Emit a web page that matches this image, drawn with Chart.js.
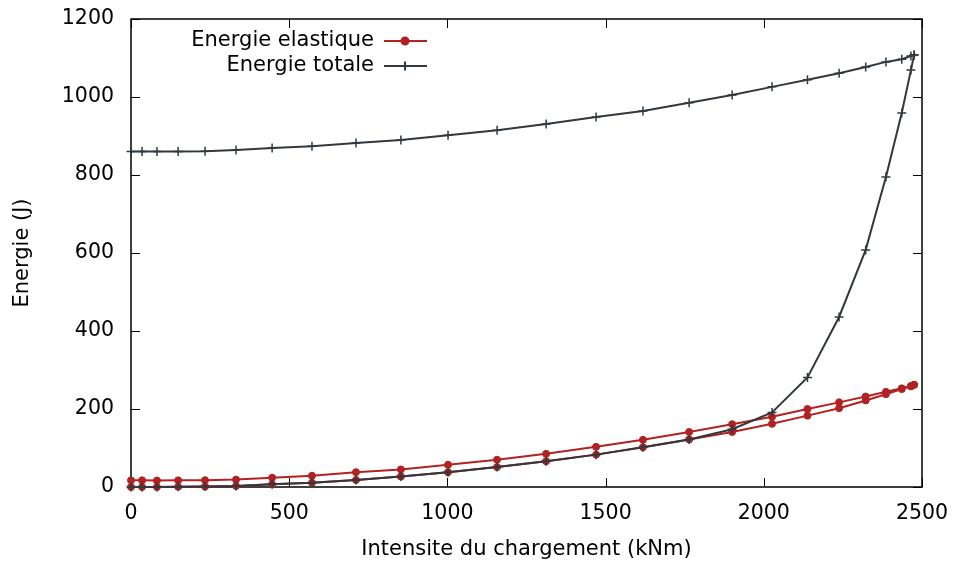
<!DOCTYPE html>
<html>
<head>
<meta charset="utf-8">
<script src="https://cdn.jsdelivr.net/npm/chart.js@4.4.1/dist/chart.umd.min.js"></script>
<style>
  html, body { margin: 0; padding: 0; background: #fff; }
</style>
</head>
<body>
<canvas id="energyChart" width="955" height="563"></canvas>
<script>
// intensite du chargement (kNm), same stations on loading and unloading
var intensite = [0, 35, 82, 149, 234, 332, 446, 572, 711, 853, 1002, 1157, 1312,
                 1470, 1618, 1764, 1900, 2026, 2138, 2238, 2322, 2386, 2436, 2465, 2475];

// energie elastique (J)
var elasCharge   = [0, 0, 0, 0.5, 1, 2.5, 7, 11, 18, 27, 38, 51, 66,
                    83, 102, 122, 141, 162, 183, 202, 222, 238, 251, 258, 262];
var elasDecharge = [17, 17, 16.5, 17, 17.5, 19, 24, 29, 38, 45, 57, 70, 85,
                    103, 121, 141, 161, 180, 200, 217, 232, 244, 253, 259, 262];

// energie totale (J)
var totCharge    = [0, 0, 0, 0.5, 1, 2.5, 7, 11, 18, 27, 38, 51, 66,
                    83, 102, 122, 148, 191, 281, 436, 608, 795, 959, 1069, 1108];
var totDecharge  = [860, 860, 860, 860, 861, 864, 869, 874, 882, 890, 902, 915, 931,
                    949, 964, 985, 1005, 1026, 1044, 1061, 1077, 1090, 1097, 1105, 1108];

var xTicks = [0, 500, 1000, 1500, 2000, 2500];
var yTicks = [0, 200, 400, 600, 800, 1000, 1200];

// loading goes up in x, unloading comes back down
function cycle(up, down) {
    var pts = [];
    for (let i = 0; i < intensite.length; i++) {
        pts.push({ x: intensite[i], y: up[i] });
    }
    for (let i = intensite.length - 1; i >= 0; i--) {
        pts.push({ x: intensite[i], y: down[i] });
    }
    return pts;
}

var FONT = '"DejaVu Sans", "Liberation Sans", sans-serif';
Chart.defaults.font.family = FONT;
Chart.defaults.font.size = 21;
Chart.defaults.color = '#000';

// gnuplot style box with inward ticks on all four sides
var framePlugin = {
    id: 'frame',
    beforeDatasetsDraw(chart) {
        const ctx = chart.ctx;
        const a = chart.chartArea;
        const xs = chart.scales.x, ys = chart.scales.y;
        const len = 9;
        ctx.save();
        ctx.strokeStyle = '#000';
        ctx.lineWidth = 1;
        ctx.beginPath();
        xs.ticks.forEach((t) => {
            const px = Math.round(xs.getPixelForValue(t.value)) + 0.5;
            ctx.moveTo(px, a.bottom); ctx.lineTo(px, a.bottom - len);
            ctx.moveTo(px, a.top); ctx.lineTo(px, a.top + len);
        });
        ys.ticks.forEach((t) => {
            const py = Math.round(ys.getPixelForValue(t.value)) + 0.5;
            ctx.moveTo(a.left, py); ctx.lineTo(a.left + len, py);
            ctx.moveTo(a.right, py); ctx.lineTo(a.right - len, py);
        });
        ctx.stroke();
        ctx.lineWidth = 1.5;
        ctx.strokeRect(a.left, a.top, a.right - a.left, a.bottom - a.top);
        ctx.restore();
    }
};

// key in the top left corner: text right aligned, sample line after it
var keyPlugin = {
    id: 'key',
    afterDraw(chart) {
        const ctx = chart.ctx;
        ctx.save();
        ctx.font = '21px ' + FONT;
        ctx.textAlign = 'right';
        ctx.textBaseline = 'middle';
        chart.data.datasets.forEach((ds, i) => {
            const y = 41 + i * 25;
            ctx.fillStyle = '#000';
            ctx.fillText(ds.label, 374, y);
            ctx.strokeStyle = ds.borderColor;
            ctx.lineWidth = ds.borderWidth;
            ctx.beginPath();
            ctx.moveTo(384, y);
            ctx.lineTo(427, y);
            ctx.stroke();
            ctx.fillStyle = ds.pointBackgroundColor;
            ctx.strokeStyle = ds.pointBorderColor;
            Chart.helpers.drawPoint(ctx, {
                pointStyle: ds.pointStyle,
                radius: ds.pointRadius,
                borderWidth: ds.pointBorderWidth,
                rotation: 0
            }, 405, y);
        });
        ctx.restore();
    }
};

// keep the plot box where the layout padding puts it
function noOverhang(s) {
    s.paddingTop = 0;
    s.paddingBottom = 0;
    s.paddingLeft = 0;
    s.paddingRight = 0;
}

var ctx = document.getElementById('energyChart');
var chart = new Chart(ctx, {
    type: 'scatter',
    data: {
        datasets: [
            {
                label: 'Energie elastique',
                data: cycle(elasCharge, elasDecharge),
                showLine: true,
                borderColor: '#b22222',
                borderWidth: 2,
                pointStyle: 'circle',
                pointRadius: 3.5,
                pointBackgroundColor: '#b22222',
                pointBorderColor: '#b22222',
                pointBorderWidth: 1,
                clip: false,
                order: 1
            },
            {
                label: 'Energie totale',
                data: cycle(totCharge, totDecharge),
                showLine: true,
                borderColor: '#32383d',
                borderWidth: 2,
                pointStyle: 'cross',
                pointRadius: 4.5,
                pointBackgroundColor: '#32383d',
                pointBorderColor: '#32383d',
                pointBorderWidth: 1.5,
                clip: false,
                order: 0
            }
        ]
    },
    options: {
        responsive: false,
        animation: false,
        devicePixelRatio: 1,
        layout: { padding: { top: 19, right: 33, left: 0, bottom: 0 } },
        plugins: {
            legend: { display: false },
            tooltip: { enabled: false }
        },
        scales: {
            x: {
                type: 'linear',
                min: 0,
                max: 2500,
                afterBuildTicks: (s) => { s.ticks = xTicks.map(v => ({ value: v })); },
                afterFit: (s) => { s.height = 76; noOverhang(s); },
                grid: { display: false, drawTicks: false },
                border: { display: false },
                ticks: {
                    padding: 14,
                    maxRotation: 0,
                    font: { size: 20.5 },
                    callback: (v) => String(v)
                },
                title: {
                    display: true,
                    text: 'Intensite du chargement (kNm)',
                    padding: { top: 0, bottom: 1 }
                }
            },
            y: {
                type: 'linear',
                min: 0,
                max: 1200,
                afterBuildTicks: (s) => { s.ticks = yTicks.map(v => ({ value: v })); },
                afterFit: (s) => { s.width = 131; noOverhang(s); },
                grid: { display: false, drawTicks: false },
                border: { display: false },
                ticks: {
                    padding: 17,
                    font: { size: 20.5 },
                    callback: (v) => String(v)
                },
                title: {
                    display: true,
                    text: 'Energie (J)',
                    padding: { top: 10, bottom: 0 }
                }
            }
        }
    },
    plugins: [framePlugin, keyPlugin]
});
</script>
</body>
</html>
